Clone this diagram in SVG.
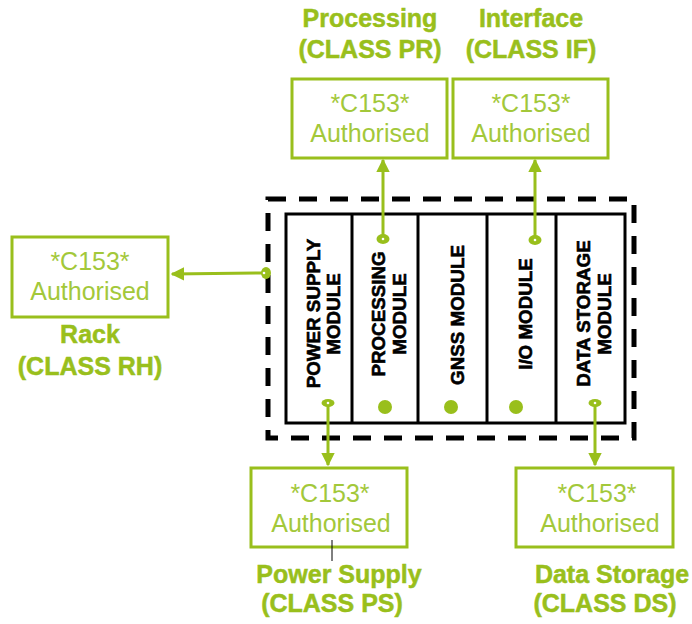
<svg xmlns="http://www.w3.org/2000/svg" width="692" height="624" viewBox="0 0 692 624">
<defs>
<marker id="ah" viewBox="0 0 10 10" refX="9" refY="5" markerWidth="4.5" markerHeight="4.5" orient="auto" markerUnits="strokeWidth">
<path d="M0,0 L10,5 L0,10 Z" fill="#99bf1c"/>
</marker>
<style>
.box{fill:#fff;stroke:#99bf1c;stroke-width:3}
.bt{font-family:"Liberation Sans",Arial,sans-serif;font-size:25px;fill:#a3c83a;text-anchor:middle}
.lb{font-family:"Liberation Sans",Arial,sans-serif;font-size:25px;font-weight:bold;fill:#99bf1c;stroke:#99bf1c;stroke-width:0.5;text-anchor:middle}
.mt{font-family:"Liberation Sans",Arial,sans-serif;font-size:18.8px;font-weight:bold;fill:#000;stroke:#000;stroke-width:0.6;text-anchor:middle}
.con{stroke:#99bf1c;stroke-width:3;fill:none}
.dot{fill:#99bf1c}
.hole{fill:#fff}
</style>
</defs>
<rect width="692" height="624" fill="#fff"/>

<g id="rack">
<rect x="268" y="199" width="366" height="239" fill="none" stroke="#000" stroke-width="5" stroke-dasharray="18 13"/>
<rect x="286" y="214" width="339" height="209" fill="#fff" stroke="#000" stroke-width="3"/>
<line x1="352" y1="214" x2="352" y2="423" stroke="#000" stroke-width="3"/>
<line x1="418" y1="214" x2="418" y2="423" stroke="#000" stroke-width="3"/>
<line x1="487" y1="214" x2="487" y2="423" stroke="#000" stroke-width="3"/>
<line x1="556" y1="214" x2="556" y2="423" stroke="#000" stroke-width="3"/>
</g>

<g id="mod-ps">
<text class="mt" transform="translate(320,313.5) rotate(-90)">POWER SUPPLY</text>
<text class="mt" transform="translate(340,314) rotate(-90)">MODULE</text>
</g>
<g id="mod-pr">
<text class="mt" transform="translate(385,314) rotate(-90)">PROCESSING</text>
<text class="mt" transform="translate(406,314) rotate(-90)">MODULE</text>
<circle class="dot" cx="385" cy="407" r="7"/>
</g>
<g id="mod-gnss">
<text class="mt" transform="translate(464,315) rotate(-90)">GNSS MODULE</text>
<circle class="dot" cx="451" cy="407" r="7"/>
</g>
<g id="mod-io">
<text class="mt" transform="translate(532,314) rotate(-90)">I/O MODULE</text>
<circle class="dot" cx="516" cy="407" r="7"/>
</g>
<g id="mod-ds">
<text class="mt" transform="translate(590,313.5) rotate(-90)">DATA STORAGE</text>
<text class="mt" transform="translate(611,314) rotate(-90)">MODULE</text>
</g>

<g id="connectors">
<line class="con" x1="383" y1="238" x2="383" y2="160" marker-end="url(#ah)"/>
<line class="con" x1="535" y1="239" x2="535" y2="160" marker-end="url(#ah)"/>
<line class="con" x1="265" y1="273" x2="172" y2="274" marker-end="url(#ah)"/>
<line class="con" x1="328" y1="403" x2="328" y2="465" marker-end="url(#ah)"/>
<line class="con" x1="595" y1="403" x2="595" y2="465" marker-end="url(#ah)"/>
<ellipse class="dot" cx="383" cy="239" rx="6.5" ry="5"/><circle class="hole" cx="383" cy="239" r="1.3"/>
<ellipse class="dot" cx="535" cy="240" rx="6.5" ry="5"/><circle class="hole" cx="535" cy="240" r="1.3"/>
<ellipse class="dot" cx="266" cy="273" rx="5" ry="6"/><circle class="hole" cx="264" cy="273" r="1.3"/>
<ellipse class="dot" cx="328" cy="403" rx="6.5" ry="4"/><circle class="hole" cx="328" cy="403" r="1.3"/>
<ellipse class="dot" cx="595" cy="403" rx="6.5" ry="4"/><circle class="hole" cx="595" cy="403" r="1.3"/>
</g>

<g id="pr">
<rect class="box" x="292" y="79" width="155" height="79"/>
<text class="bt" x="370" y="112">*C153*</text>
<text class="bt" x="370" y="142">Authorised</text>
<text class="lb" x="370" y="27">Processing</text>
<text class="lb" x="370" y="58">(CLASS PR)</text>
</g>

<g id="if">
<rect class="box" x="453" y="79" width="155" height="79"/>
<text class="bt" x="531" y="112">*C153*</text>
<text class="bt" x="531" y="142">Authorised</text>
<text class="lb" x="531" y="27">Interface</text>
<text class="lb" x="531" y="58">(CLASS IF)</text>
</g>

<g id="rh">
<rect class="box" x="12" y="237" width="156" height="80"/>
<text class="bt" x="90" y="270">*C153*</text>
<text class="bt" x="90" y="300">Authorised</text>
<text class="lb" x="90" y="343">Rack</text>
<text class="lb" x="90" y="375">(CLASS RH)</text>
</g>

<g id="ps">
<rect class="box" x="251" y="468" width="156" height="79"/>
<text class="bt" x="330" y="502">*C153*</text>
<text class="bt" x="331" y="532">Authorised</text>
<line x1="332" y1="540" x2="332" y2="561" stroke="#000" stroke-width="1"/>
<text class="lb" x="339" y="583">Power Supply</text>
<text class="lb" x="332" y="612">(CLASS PS)</text>
</g>

<g id="ds">
<rect class="box" x="516" y="468" width="157" height="79"/>
<text class="bt" x="597" y="502">*C153*</text>
<text class="bt" x="600" y="532">Authorised</text>
<text class="lb" x="612" y="583">Data Storage</text>
<text class="lb" x="605" y="612">(CLASS DS)</text>
</g>
</svg>
